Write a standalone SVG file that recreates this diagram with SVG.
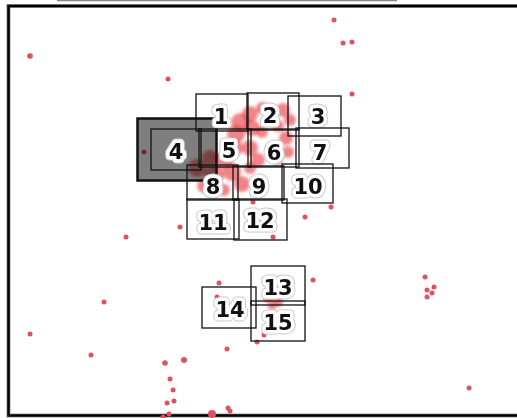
<svg xmlns="http://www.w3.org/2000/svg" width="517" height="418" viewBox="0 0 517 418">
<defs>
<filter id="soft" x="-20%" y="-20%" width="140%" height="140%"><feGaussianBlur stdDeviation="1.6"/></filter>
</defs>
<style>
.dot{fill:#e0515e}
.blob{fill:#e8333b;opacity:0.6}
.cell{fill:none;stroke:#111;stroke-width:1.3}
.lbl{font-family:"DejaVu Sans",sans-serif;font-weight:bold;font-size:21px;text-anchor:middle;fill:#111}
.halo1{font-family:"DejaVu Sans",sans-serif;font-weight:bold;font-size:21px;text-anchor:middle;fill:#ccc;stroke:#c8c8c8;stroke-width:9;stroke-linejoin:round}
.halo2{font-family:"DejaVu Sans",sans-serif;font-weight:bold;font-size:21px;text-anchor:middle;fill:#fff;stroke:#fff;stroke-width:7;stroke-linejoin:round}
</style>
<rect width="517" height="418" fill="#fff"/>
<line x1="57" y1="0.5" x2="397" y2="0.5" stroke="#888" stroke-width="1.5"/>
<rect x="8.5" y="6" width="520" height="409.5" fill="none" stroke="#999" stroke-width="4"/>
<rect x="8.5" y="6" width="520" height="409.5" fill="none" stroke="#000" stroke-width="2.5"/>
<g id="points">
<circle class="dot" cx="30" cy="56" r="2.8"/>
<circle class="dot" cx="334" cy="20" r="2.5"/>
<circle class="dot" cx="343" cy="43" r="2.5"/>
<circle class="dot" cx="352" cy="42" r="2.5"/>
<circle class="dot" cx="168" cy="79" r="2.5"/>
<circle class="dot" cx="352" cy="94" r="2.5"/>
<circle class="dot" cx="144" cy="152" r="2.5"/>
<circle class="dot" cx="126" cy="237" r="2.5"/>
<circle class="dot" cx="180" cy="227" r="2.5"/>
<circle class="dot" cx="253" cy="202" r="2.5"/>
<circle class="dot" cx="305" cy="217" r="2.5"/>
<circle class="dot" cx="331" cy="207" r="2.5"/>
<circle class="dot" cx="273" cy="237" r="2.5"/>
<circle class="dot" cx="313" cy="280" r="2.5"/>
<circle class="dot" cx="425" cy="277" r="2.5"/>
<circle class="dot" cx="434" cy="287" r="2.5"/>
<circle class="dot" cx="427" cy="290" r="2.5"/>
<circle class="dot" cx="432" cy="293" r="2.5"/>
<circle class="dot" cx="427" cy="297" r="2.5"/>
<circle class="dot" cx="104" cy="302" r="2.5"/>
<circle class="dot" cx="219" cy="283" r="2.5"/>
<circle class="dot" cx="217" cy="297" r="2.5"/>
<circle class="dot" cx="30" cy="334" r="2.5"/>
<circle class="dot" cx="91" cy="355" r="2.5"/>
<circle class="dot" cx="227" cy="349" r="2.5"/>
<circle class="dot" cx="257" cy="342" r="2.5"/>
<circle class="dot" cx="264" cy="335" r="2.5"/>
<circle class="dot" cx="165" cy="363" r="2.8"/>
<circle class="dot" cx="184" cy="360" r="3"/>
<circle class="dot" cx="170" cy="379" r="2.5"/>
<circle class="dot" cx="173" cy="390" r="2.5"/>
<circle class="dot" cx="167" cy="403" r="2.5"/>
<circle class="dot" cx="174" cy="401" r="2.5"/>
<circle class="dot" cx="169" cy="414" r="2.5"/>
<circle class="dot" cx="163" cy="417" r="2.5"/>
<circle class="dot" cx="212" cy="414" r="4"/>
<circle class="dot" cx="228" cy="408" r="2.5"/>
<circle class="dot" cx="230" cy="411" r="2.5"/>
<circle class="dot" cx="469" cy="388" r="2.5"/>
</g>
<g id="cluster" filter="url(#soft)">
<circle class="blob" cx="240" cy="122" r="9"/>
<circle class="blob" cx="250" cy="114" r="8"/>
<circle class="blob" cx="262" cy="108" r="6"/>
<circle class="blob" cx="283" cy="110" r="7"/>
<circle class="blob" cx="290" cy="120" r="6"/>
<circle class="blob" cx="278" cy="126" r="6"/>
<circle class="blob" cx="236" cy="134" r="9"/>
<circle class="blob" cx="252" cy="128" r="8"/>
<circle class="blob" cx="262" cy="132" r="6"/>
<circle class="blob" cx="234" cy="148" r="9"/>
<circle class="blob" cx="250" cy="148" r="8"/>
<circle class="blob" cx="286" cy="138" r="7"/>
<circle class="blob" cx="288" cy="152" r="6"/>
<circle class="blob" cx="278" cy="160" r="5"/>
<circle class="blob" cx="224" cy="160" r="9"/>
<circle class="blob" cx="210" cy="158" r="8"/>
<circle class="blob" cx="197" cy="168" r="9"/>
<circle class="blob" cx="214" cy="175" r="10"/>
<circle class="blob" cx="232" cy="172" r="9"/>
<circle class="blob" cx="242" cy="184" r="8"/>
<circle class="blob" cx="204" cy="186" r="7"/>
<circle class="blob" cx="224" cy="190" r="6"/>
<circle class="blob" cx="258" cy="160" r="7"/>
<circle class="blob" cx="250" cy="168" r="6"/>
<circle class="blob" cx="268" cy="298" r="5"/>
<circle class="blob" cx="278" cy="302" r="5"/>
<circle class="blob" cx="272" cy="306" r="4"/>
</g>
<g id="cell-4">
<rect x="137.5" y="118.5" width="79" height="62" fill="#000" fill-opacity="0.5" stroke="#111" stroke-width="2.5"/>
<rect x="151" y="129" width="50" height="41" fill="none" stroke="#111" stroke-width="1.3"/>
<text class="halo1" x="176" y="158.5">4</text><text class="halo2" x="176" y="158.5">4</text><text class="lbl" x="176" y="158.5">4</text>
</g>
<g id="cell-1"><rect class="cell" x="196" y="94" width="52" height="37"/><text class="halo1" x="221" y="124">1</text><text class="halo2" x="221" y="124">1</text><text class="lbl" x="221" y="124">1</text></g>
<g id="cell-2"><rect class="cell" x="247" y="93" width="52" height="37"/><text class="halo1" x="270" y="123">2</text><text class="halo2" x="270" y="123">2</text><text class="lbl" x="270" y="123">2</text></g>
<g id="cell-3"><rect class="cell" x="288" y="96" width="53" height="40"/><text class="halo1" x="318" y="124">3</text><text class="halo2" x="318" y="124">3</text><text class="lbl" x="318" y="124">3</text></g>
<g id="cell-5"><rect class="cell" x="199" y="129" width="52" height="38"/><text class="halo1" x="229" y="157.5">5</text><text class="halo2" x="229" y="157.5">5</text><text class="lbl" x="229" y="157.5">5</text></g>
<g id="cell-6"><rect class="cell" x="248" y="129" width="51" height="38"/><text class="halo1" x="274" y="159.5">6</text><text class="halo2" x="274" y="159.5">6</text><text class="lbl" x="274" y="159.5">6</text></g>
<g id="cell-7"><rect class="cell" x="296" y="128" width="53" height="40"/><text class="halo1" x="320" y="159.5">7</text><text class="halo2" x="320" y="159.5">7</text><text class="lbl" x="320" y="159.5">7</text></g>
<g id="cell-8"><rect class="cell" x="187" y="165" width="51" height="35"/><text class="halo1" x="213" y="193.5">8</text><text class="halo2" x="213" y="193.5">8</text><text class="lbl" x="213" y="193.5">8</text></g>
<g id="cell-9"><rect class="cell" x="233" y="166" width="51" height="34"/><text class="halo1" x="259" y="193.5">9</text><text class="halo2" x="259" y="193.5">9</text><text class="lbl" x="259" y="193.5">9</text></g>
<g id="cell-10"><rect class="cell" x="282" y="164" width="51" height="39"/><text class="halo1" x="308" y="193.5">10</text><text class="halo2" x="308" y="193.5">10</text><text class="lbl" x="308" y="193.5">10</text></g>
<g id="cell-11"><rect class="cell" x="187" y="199" width="52" height="40"/><text class="halo1" x="213" y="229.5">11</text><text class="halo2" x="213" y="229.5">11</text><text class="lbl" x="213" y="229.5">11</text></g>
<g id="cell-12"><rect class="cell" x="234" y="199" width="53" height="41"/><text class="halo1" x="260" y="227.5">12</text><text class="halo2" x="260" y="227.5">12</text><text class="lbl" x="260" y="227.5">12</text></g>
<g id="cell-13"><rect class="cell" x="251" y="266" width="54" height="39"/><text class="halo1" x="278" y="294.5">13</text><text class="halo2" x="278" y="294.5">13</text><text class="lbl" x="278" y="294.5">13</text></g>
<g id="cell-15"><rect class="cell" x="251" y="301" width="54" height="40"/><text class="halo1" x="278" y="329.5">15</text><text class="halo2" x="278" y="329.5">15</text><text class="lbl" x="278" y="329.5">15</text></g>
<g id="cell-14"><rect class="cell" x="202" y="287" width="54" height="41"/><text class="halo1" x="230" y="316.5">14</text><text class="halo2" x="230" y="316.5">14</text><text class="lbl" x="230" y="316.5">14</text></g>
<g id="connectors"/>
</svg>
